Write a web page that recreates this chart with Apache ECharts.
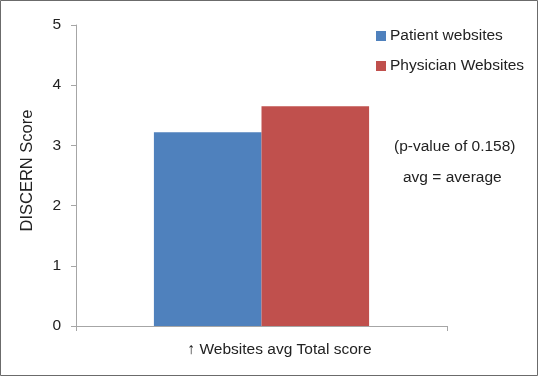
<!DOCTYPE html>
<html>
<head>
<meta charset="utf-8">
<script src="https://cdn.jsdelivr.net/npm/echarts@6/dist/echarts.min.js"></script>
<style>
  html, body { margin: 0; padding: 0; background: #fff; }
  #chart { width: 538px; height: 376px; }
</style>
</head>
<body>
<div id="chart"></div>
<script>
const categories = ['↑ Websites avg Total score']
const seriesNames = ['Patient websites', 'Physician Websites']
const patientValues = [3.22]
const physicianValues = [3.65]
const colors = ['#4F81BD', '#C0504D']

const chart = echarts.init(document.getElementById('chart'))
const font = 'Liberation Sans, Arial, sans-serif'

chart.setOption({
  animation: false,
  textStyle: { fontFamily: font },
  grid: { left: 76, top: 25, right: 91, bottom: 50 },
  legend: {
    orient: 'vertical',
    left: 371,
    top: 23,
    itemWidth: 10,
    itemHeight: 10,
    itemGap: 14,
    icon: 'rect',
    textStyle: { fontSize: 15.5, lineHeight: 16, color: '#222', fontFamily: font, padding: [0, 0, 0, -1] },
    data: seriesNames,
  },
  xAxis: {
    type: 'category',
    data: categories,
    axisLine: { lineStyle: { color: '#A6A6A6' } },
    axisTick: { show: true, length: 5, lineStyle: { color: '#A6A6A6' } },
    axisLabel: { fontSize: 15.5, color: '#222', margin: 16, padding: [0, 0, 0, 36] },
  },
  yAxis: {
    type: 'value',
    min: 0,
    max: 5,
    interval: 1,
    name: 'DISCERN Score',
    nameLocation: 'middle',
    nameGap: 40,
    nameTextStyle: { fontSize: 16.5, color: '#222', padding: [0, 0, 0, 10] },
    axisLine: { show: true, lineStyle: { color: '#A6A6A6' } },
    axisTick: { show: true, length: 5, lineStyle: { color: '#A6A6A6' } },
    axisLabel: { fontSize: 15.5, color: '#222', margin: 15 },
    splitLine: { show: false },
  },
  series: [
    { name: seriesNames[0], type: 'bar', data: patientValues },
    { name: seriesNames[1], type: 'bar', data: physicianValues },
  ].map((s, i) => ({
    ...s,
    barGap: '0%',
    barCategoryGap: '42%',
    itemStyle: { color: colors[i] },
  })),
  graphic: [
    {
      type: 'rect',
      shape: { x: 0.5, y: 0.5, width: 537, height: 375 },
      style: { fill: 'none', stroke: '#6B6B6B', lineWidth: 1 },
    },
    {
      type: 'text',
      x: 394,
      y: 147,
      style: { text: '(p-value of 0.158)', fontSize: 15.5, fill: '#222', fontFamily: font, verticalAlign: 'middle' },
    },
    {
      type: 'text',
      x: 403,
      y: 178,
      style: { text: 'avg = average', fontSize: 15.5, fill: '#222', fontFamily: font, verticalAlign: 'middle' },
    },
  ],
})
</script>
</body>
</html>
